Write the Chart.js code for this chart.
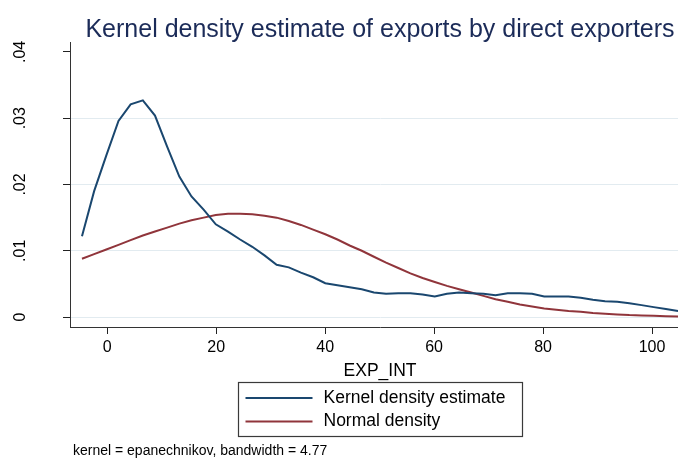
<!DOCTYPE html>
<html>
<head>
<meta charset="utf-8">
<script src="https://cdn.jsdelivr.net/npm/chart.js@4.4.1/dist/chart.umd.min.js"></script>
<style>
  html, body { margin: 0; padding: 0; background: #ffffff; width: 678px; height: 458px; overflow: hidden; }
  canvas { display: block; }
</style>
</head>
<body>
<canvas id="kde" width="690" height="458"></canvas>
<script>
// Evaluation grid of EXP_INT (50 points)
const gridX = [
  -4.64, -2.41, -0.17, 2.06, 4.29, 6.53, 8.76, 10.99, 13.23, 15.46,
  17.69, 19.92, 22.16, 24.39, 26.62, 28.86, 31.09, 33.32, 35.55, 37.79,
  40.02, 42.25, 44.49, 46.72, 48.95, 51.18, 53.42, 55.65, 57.88, 60.12,
  62.35, 64.58, 66.81, 69.05, 71.28, 73.51, 75.75, 77.98, 80.21, 82.44,
  84.68, 86.91, 89.14, 91.38, 93.61, 95.84, 98.07, 100.31, 102.54, 104.77
];

// Kernel density estimate at each grid point
const kernelDensity = [
  0.0122, 0.0190, 0.0244, 0.0296, 0.0321, 0.0327, 0.0304, 0.0257, 0.0212, 0.0182,
  0.0162, 0.0140, 0.0129, 0.0117, 0.0106, 0.0093, 0.0079, 0.0075, 0.0067, 0.0060,
  0.0051, 0.0048, 0.0045, 0.0042, 0.0037, 0.0035, 0.0036, 0.0036, 0.0034, 0.0031,
  0.0035, 0.0037, 0.0036, 0.0035, 0.0033, 0.0036, 0.0036, 0.0035, 0.0031, 0.0031,
  0.0031, 0.0029, 0.0026, 0.0024, 0.0023, 0.0021, 0.0018, 0.0015, 0.0012, 0.0009
];

// Normal density at each grid point
const normalDensity = [
  0.0088, 0.0095, 0.0102, 0.0109, 0.0116, 0.0123, 0.0129, 0.0135, 0.0141, 0.0146,
  0.0150, 0.0154, 0.0156, 0.0156, 0.0155, 0.0153, 0.0150, 0.0145, 0.0139, 0.0132,
  0.0125, 0.0117, 0.0108, 0.0100, 0.0091, 0.0082, 0.0074, 0.0066, 0.0059, 0.0053,
  0.0047, 0.0042, 0.0037, 0.0032, 0.0027, 0.0023, 0.0019, 0.0016, 0.0013, 0.0011,
  0.0009, 0.0008, 0.0006, 0.0005, 0.0004, 0.0003, 0.00025, 0.0002, 0.00013, 0.00008
];

const xTicks = [0, 20, 40, 60, 80, 100];
const yTicks = [0, 0.01, 0.02, 0.03, 0.04];
const yTickLabels = ['0', '.01', '.02', '.03', '.04'];
const seriesNames = ['Kernel density estimate', 'Normal density'];
const seriesColors = ['#1a476f', '#90353b'];
const titleText = 'Kernel density estimate of exports by direct exporters';
const xTitleText = 'EXP_INT';
const noteText = 'kernel = epanechnikov, bandwidth = 4.77';

const FAMILY = '"Liberation Sans", Arial, Helvetica, sans-serif';

// Title, framed legend and kernel note
const decorations = {
  id: 'decorations',
  afterDraw(chart) {
    const { ctx, chartArea } = chart;
    const cx = (chartArea.left + chartArea.right) / 2;
    ctx.save();

    ctx.fillStyle = '#1b2b58';
    ctx.font = '25px ' + FAMILY;
    ctx.textAlign = 'center';
    ctx.textBaseline = 'alphabetic';
    ctx.fillText(titleText, cx, 37);

    const bx = Math.round(cx - 142) + 0.5, by = 382.5, bw = 284, bh = 54;
    ctx.strokeStyle = '#3a3a3a';
    ctx.lineWidth = 1.2;
    ctx.strokeRect(bx, by, bw, bh);

    ctx.font = '17.5px ' + FAMILY;
    ctx.textAlign = 'left';
    ctx.textBaseline = 'middle';
    chart.data.datasets.forEach((ds, i) => {
      const ly = by + 15.5 + i * 23.5;
      ctx.strokeStyle = ds.borderColor;
      ctx.lineWidth = 2;
      ctx.beginPath();
      ctx.moveTo(bx + 7, ly);
      ctx.lineTo(bx + 74, ly);
      ctx.stroke();
      ctx.fillStyle = '#000000';
      ctx.fillText(ds.label, bx + 85, ly);
    });

    ctx.font = '14px ' + FAMILY;
    ctx.fillStyle = '#000000';
    ctx.textAlign = 'left';
    ctx.textBaseline = 'middle';
    ctx.fillText(noteText, 73, 451);
    ctx.restore();
  }
};

new Chart(document.getElementById('kde'), {
  type: 'line',
  data: {
    datasets: [
      {
        label: seriesNames[0],
        data: gridX.map((x, i) => ({ x: x, y: kernelDensity[i] })),
        borderColor: seriesColors[0],
        borderWidth: 2,
        pointRadius: 0,
        tension: 0,
        fill: false
      },
      {
        label: seriesNames[1],
        data: gridX.map((x, i) => ({ x: x, y: normalDensity[i] })),
        borderColor: seriesColors[1],
        borderWidth: 2,
        pointRadius: 0,
        tension: 0,
        fill: false
      }
    ]
  },
  options: {
    responsive: false,
    animation: false,
    devicePixelRatio: 1,
    layout: { padding: { top: 42, right: 0, bottom: 75, left: 0 } },
    plugins: {
      legend: { display: false },
      tooltip: { enabled: false },
      title: { display: false }
    },
    scales: {
      x: {
        type: 'linear',
        min: -6.84,
        max: 106.97,
        afterBuildTicks: s => { s.ticks = xTicks.map(v => ({ value: v })); },
        afterFit: s => { s.height = 56; },
        border: { display: true, color: '#333333', width: 1 },
        grid: { display: true, drawOnChartArea: false, drawTicks: true, tickLength: 7, tickColor: '#222222', tickWidth: 1 },
        ticks: {
          padding: 4,
          maxRotation: 0,
          minRotation: 0,
          color: '#000000',
          font: { family: FAMILY, size: 16 },
          callback: v => String(v)
        },
        title: {
          display: true,
          text: xTitleText,
          color: '#000000',
          font: { family: FAMILY, size: 17.5 },
          padding: { top: 0, bottom: 1 }
        }
      },
      y: {
        type: 'linear',
        min: -0.0015,
        max: 0.0415,
        afterBuildTicks: s => { s.ticks = yTicks.map(v => ({ value: v })); },
        afterFit: s => { s.width = 70; },
        border: { display: true, color: '#333333', width: 1 },
        grid: {
          display: true,
          drawOnChartArea: true,
          drawTicks: true,
          tickLength: 7,
          tickColor: '#222222',
          lineWidth: 1,
          color: c => (c.tick && c.tick.value < 0.035 ? '#e2ebf0' : 'rgba(0,0,0,0)')
        },
        ticks: {
          minRotation: 90,
          maxRotation: 90,
          crossAlign: 'center',
          padding: 31,
          color: '#000000',
          font: { family: FAMILY, size: 16 },
          callback: (v, i) => yTickLabels[i]
        }
      }
    }
  },
  plugins: [decorations]
});
</script>
</body>
</html>
